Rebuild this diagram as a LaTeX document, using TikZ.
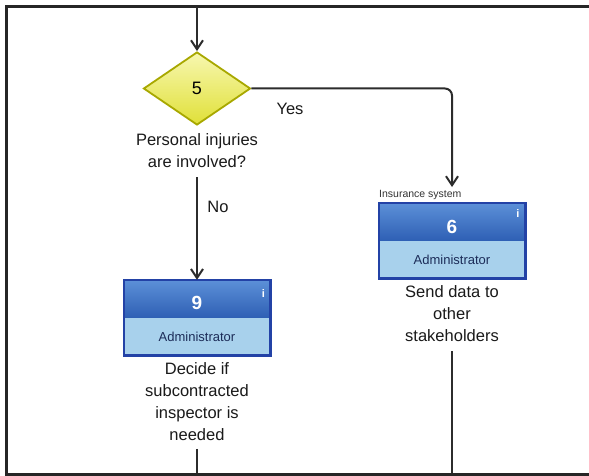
\documentclass[tikz,border=0pt]{standalone}
\usepackage{fontspec}
\setmainfont{Liberation Sans}
\usetikzlibrary{arrows.meta,shapes.geometric,calc}

\definecolor{framegray}{HTML}{262626}
\definecolor{linegray}{HTML}{2C2C2C}
\definecolor{dmdtop}{HTML}{F7F7B0}
\definecolor{dmdbot}{HTML}{E0E038}
\definecolor{dmdedge}{HTML}{A8A800}
\definecolor{acttop}{HTML}{5C90D8}
\definecolor{actbot}{HTML}{2E5FB4}
\definecolor{actedge}{HTML}{2342A6}
\definecolor{rolefill}{HTML}{A8D1EC}
\definecolor{roletext}{HTML}{1C2C58}
\definecolor{captext}{HTML}{1A1A1A}

\tikzset{
  frameline/.style={draw=framegray, line width=3pt},
  flow/.style={draw=linegray, line width=2pt},
  flowarrow/.style={flow, -{Straight Barb[length=9pt,width=12pt,line width=2pt]}},
  decision/.style={diamond, draw=dmdedge, line width=1.8pt,
    top color=dmdtop, bottom color=dmdbot,
    minimum width=107pt, minimum height=73pt, inner sep=0pt, aspect=1.47},
  decnum/.style={font=\fontsize{18}{20}\selectfont, text=black, inner sep=0pt},
  acthead/.style={rectangle, minimum width=146pt, minimum height=38pt, inner sep=0pt,
    top color=acttop, bottom color=actbot},
  actrole/.style={rectangle, minimum width=146pt, minimum height=37pt, inner sep=0pt,
    fill=rolefill, text=roletext, font=\fontsize{13}{15}\selectfont},
  actborder/.style={draw=actedge, line width=2.6pt},
  actnum/.style={text=white, font=\bfseries\fontsize{19}{22}\selectfont, inner sep=0pt},
  infomark/.style={text=white, font=\bfseries\fontsize{11}{12}\selectfont, inner sep=0pt},
  lane/.style={font=\fontsize{10.5}{12}\selectfont, text=black!80, inner sep=0pt, anchor=west},
  caption/.style={align=center, font=\fontsize{16.5}{22}\selectfont, text=captext, inner sep=0pt},
  branch/.style={font=\fontsize{16.5}{20}\selectfont, text=captext, inner sep=0pt},
}

\begin{document}
\begin{tikzpicture}[x=1pt, y=-1pt]
  \useasboundingbox (0,0) rectangle (589,476);
  \fill[white] (0,0) rectangle (589,476);

  % lane frame
  \coordinate (ftr) at (589,7);
  \coordinate (ftl) at (6,7);
  \coordinate (fbl) at (6,474);
  \coordinate (fbr) at (589,474);
  \draw[frameline] (ftr) -- (ftl) -- (fbl) -- (fbr);

  % decision 5
  \node[decision] (d5) at (197,88.5) {};
  \node[decnum] (n5) at (197,88.5) {5};
  \node[caption] (l5) at (197,151) {Personal injuries\\are involved?};

  % activity 6
  \node[acthead] (h6) at (452,222) {};
  \node[actrole] (r6) at (452,259.5) {Administrator};
  \draw[actborder] (h6.north west) rectangle (r6.south east);
  \node[actnum] (n6) at (452,227) {6};
  \node[infomark] (i6) at (518,214) {i};
  \node[lane] (s6) at (379,195) {Insurance system};
  \node[caption] (l6) at (452,314) {Send data to\\other\\stakeholders};

  % activity 9
  \node[acthead] (h9) at (197,299) {};
  \node[actrole] (r9) at (197,336.5) {Administrator};
  \draw[actborder] (h9.north west) rectangle (r9.south east);
  \node[actnum] (n9) at (197,303) {9};
  \node[infomark] (i9) at (263.5,294) {i};
  \node[caption] (l9) at (197,401.5) {Decide if\\subcontracted\\inspector is\\needed};

  % connectors
  \coordinate (in5) at (197,7);
  \draw[flowarrow] (in5) -- (d5.north);

  \coordinate (yesend) at (452,187);
  \draw[flowarrow, rounded corners=7pt] (d5.east) -| (yesend);
  \node[branch] (yes) at (290,109) {Yes};

  \draw[flowarrow] ([yshift=-9pt]l5.south) -- (h9.north);
  \node[branch] (no) at (218,207) {No};

  \coordinate (out6) at (452,474);
  \draw[flow] ([yshift=-9pt]l6.south) -- (out6);
  \coordinate (out9) at (197,474);
  \draw[flow] ([yshift=-8pt]l9.south) -- (out9);

  % redraw bottom edge over the connector ends
  \draw[frameline] (fbl) -- (fbr);
\end{tikzpicture}
\end{document}
